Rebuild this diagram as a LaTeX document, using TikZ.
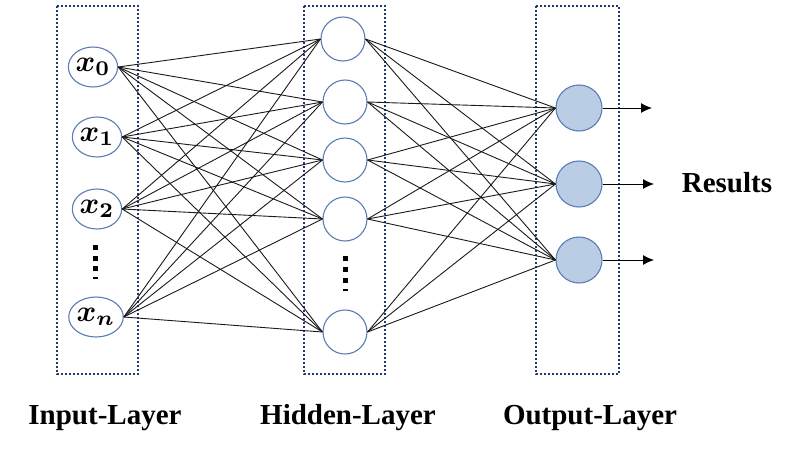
\documentclass[tikz,border=0pt]{standalone}
\usepackage{graphicx}
\usepackage{fontspec}
\setmainfont{Liberation Serif}
\usetikzlibrary{shapes.geometric,arrows.meta}
\definecolor{ringblue}{HTML}{5B7DB3}
\definecolor{fillblue}{HTML}{B9CDE5}
\definecolor{boxnavy}{HTML}{1F3A6E}
\definecolor{edgegray}{HTML}{1A1A1A}
\newcommand{\inlab}[1]{\scalebox{3.0}{\boldmath$#1$}}
\tikzset{
  inputnode/.style={ellipse, draw=ringblue, line width=1.1pt, fill=white, minimum width=46pt, minimum height=40pt, inner sep=0pt},
  hiddennode/.style={circle, draw=ringblue, line width=1.1pt, fill=white, minimum size=44pt, inner sep=0pt},
  outputnode/.style={circle, draw=ringblue, line width=1.1pt, fill=fillblue, minimum size=46pt, inner sep=0pt},
  layerbox/.style={draw=boxnavy, line width=1.8pt, dash pattern=on 1.8pt off 2.2pt},
  conn/.style={draw=edgegray, line width=0.9pt},
  outarrow/.style={draw=black, line width=1pt, -{Latex[length=11pt,width=10pt]}},
  labeltext/.style={font=\fontsize{29}{30}\selectfont\bfseries, inner sep=0pt},
  dotsq/.style={fill=black}
}
\begin{document}
\begin{tikzpicture}[x=1pt,y=-1pt]
\useasboundingbox (0,0) rectangle (795,453);
% layer boxes
\draw[layerbox] (57,6) rectangle (138,374);
\draw[layerbox] (304,6) rectangle (385,374);
\draw[layerbox] (536,6) rectangle (619,374);
% input nodes
\node[inputnode] (i0) at (93,67) {\inlab{x_0}};
\node[inputnode] (i1) at (97,137) {\inlab{x_1}};
\node[inputnode] (i2) at (97,209) {\inlab{x_2}};
\node[inputnode] (in) at (96,317) {\inlab{x_n}};
% hidden nodes
\node[hiddennode] (h1) at (343,39) {};
\node[hiddennode] (h2) at (345,102) {};
\node[hiddennode] (h3) at (345,160) {};
\node[hiddennode] (h4) at (345,219) {};
\node[hiddennode] (hn) at (345,332) {};
% output nodes
\node[outputnode] (o1) at (579,108) {};
\node[outputnode] (o2) at (579,184) {};
\node[outputnode] (o3) at (579,260) {};
% connections input -> hidden
\foreach \a in {i0,i1,i2,in}{
  \foreach \b in {h1,h2,h3,h4,hn}{
    \draw[conn] (\a.east) -- (\b.west);
  }
}
% connections hidden -> output
\foreach \a in {h1,h2,h3,h4,hn}{
  \foreach \b in {o1,o2,o3}{
    \draw[conn] (\a.east) -- (\b.west);
  }
}
% vertical dots
\foreach \y in {247,258,268}{ \fill[dotsq] (92.5,\y-2.5) rectangle (97.5,\y+2.5); }
\fill[dotsq] (92.5,277) rectangle (97.5,279);
\foreach \y in {258,269,280}{ \fill[dotsq] (342.5,\y-2.5) rectangle (347.5,\y+2.5); }
\fill[dotsq] (342.5,289) rectangle (347.5,291);
% output arrows
\coordinate (r1) at (652,108);
\coordinate (r2) at (654,184);
\coordinate (r3) at (654,260);
\draw[outarrow] (o1.east) -- (r1);
\draw[outarrow] (o2.east) -- (r2);
\draw[outarrow] (o3.east) -- (r3);
% labels
\node[labeltext] (res) at (727,183) {Results};
\node[labeltext] (l1) at (105,418) {Input-Layer};
\node[labeltext] (l2) at (348,418) {Hidden-Layer};
\node[labeltext] (l3) at (590,418) {Output-Layer};
\end{tikzpicture}
\end{document}
